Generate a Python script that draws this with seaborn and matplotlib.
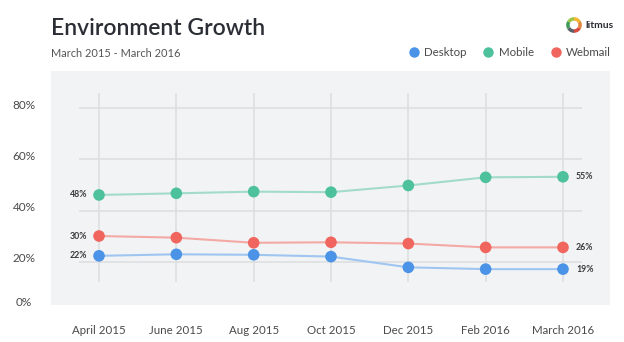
import matplotlib
matplotlib.use("Agg")
import matplotlib.pyplot as plt
import matplotlib.transforms as mtransforms
from matplotlib.lines import Line2D
import seaborn as sns
import pandas as pd

# ---- data ----
months = ["April 2015", "June 2015", "Aug 2015", "Oct 2015", "Dec 2015", "Feb 2016", "March 2016"]
desktop = [22.3, 22.9, 22.7, 22.0, 17.8, 17.1, 17.1]
mobile = [46.1, 46.75, 47.4, 47.2, 49.8, 53.0, 53.2]
webmail = [30.05, 29.4, 27.4, 27.6, 27.1, 25.6, 25.6]
series_names = ["Desktop", "Mobile", "Webmail"]
start_labels = ["22%", "48%", "30%"]
end_labels = ["19%", "55%", "26%"]
ytick_vals = [20, 40, 60, 80]
ytick_labels = ["0%", "20%", "40%", "60%", "80%"]

marker_colors = {"Desktop": "#4a93e6", "Mobile": "#4dc19c", "Webmail": "#f0655d"}
line_colors = {"Desktop": "#9fc6f1", "Mobile": "#a2dcc8", "Webmail": "#f4a9a4"}

rows = []
for name, vals in zip(series_names, [desktop, mobile, webmail]):
    for i, (m, v) in enumerate(zip(months, vals)):
        rows.append({"series": name, "month": m, "idx": i, "value": v})
df = pd.DataFrame(rows)

sns.set_theme(style="white")
plt.rcParams["font.family"] = ["Lato", "DejaVu Sans"]

W, H = 624, 342
fig = plt.figure(figsize=(W / 100, H / 100), dpi=100)
ax = fig.add_axes([51 / W, 1 - 305 / H, (610 - 51) / W, (305 - 71) / H])
ax.set_facecolor("#f2f3f5")
for s in ax.spines.values():
    s.set_visible(False)

ymin, ymax = 3.07, 94.58
xmin, xmax = -0.621, 6.608
ax.set_xlim(xmin, xmax)
ax.set_ylim(ymin, ymax)

# grid
grid_c = "#dcdde0"
ax.hlines(ytick_vals, -0.259, 6.246, color=grid_c, lw=1.1, zorder=1)
ax.vlines(range(len(months)), 12.06, 85.97, color=grid_c, lw=1.1, zorder=1)

sns.lineplot(data=df, x="idx", y="value", hue="series", palette=line_colors,
             linewidth=1.5, legend=False, ax=ax, zorder=2)
sns.scatterplot(data=df, x="idx", y="value", hue="series", palette=marker_colors,
                s=70, edgecolor="none", legend=False, ax=ax, zorder=3)

# end labels
for name, vals, sl, el in zip(series_names, [desktop, mobile, webmail], start_labels, end_labels):
    ax.annotate(sl, (0, vals[0]), xytext=(-8.5, 0), textcoords="offset points",
                ha="right", va="center", fontsize=6.3, fontweight="bold", color="#3a3a3a")
    ax.annotate(el, (len(months) - 1, vals[-1]), xytext=(9.3, 0), textcoords="offset points",
                ha="left", va="center", fontsize=6.3, fontweight="bold", color="#3a3a3a")

ax.set_xlabel("")
ax.set_ylabel("")
ax.set_xticks(range(len(months)))
ax.set_xticklabels(months)
ax.set_yticks([ymin] + ytick_vals)
ax.set_yticklabels(ytick_labels)
ax.tick_params(axis="x", length=0, pad=18.7, labelsize=8.3, labelcolor="#4a4a4a")
ax.tick_params(axis="y", length=0, pad=19.4, labelsize=8.5, labelcolor="#4a4a4a")
for lab in ax.get_xticklabels():
    lab.set_va("center")
off = mtransforms.ScaledTranslation(0, 3 / 100, fig.dpi_scale_trans)
for lab in ax.get_yticklabels():
    lab.set_ha("center")
    lab.set_va("center")
    lab.set_transform(lab.get_transform() + off)

# title / subtitle
fig.text(51 / W, 1 - 28.5 / H, "Environment Growth", fontsize=16.5, fontweight="semibold",
         color="#2c2e35", ha="left", va="center")
fig.text(51 / W, 1 - 53.5 / H, "March 2015 - March 2016", fontsize=7.9,
         color="#555555", ha="left", va="center")

# legend
handles = [Line2D([0], [0], marker="o", linestyle="none", markersize=7.5,
                  markerfacecolor=marker_colors[n], markeredgecolor="none") for n in series_names]
leg = fig.legend(handles, series_names, loc="center right", bbox_to_anchor=(611 / W, 1 - 53 / H),
                 ncol=3, frameon=False, borderpad=0, borderaxespad=0, handlelength=0.9,
                 handletextpad=0.45, columnspacing=1.45, fontsize=8.3)
for t in leg.get_texts():
    t.set_color("#4a4a4a")

# litmus logo
lax = fig.add_axes([566 / W, 1 - 33 / H, 16 / W, 16 / H])
lax.pie([1, 1, 1, 1, 1, 1], colors=["#f6b530", "#e2873a", "#d9493d", "#5b5f67", "#3f9a5a", "#9cc64a"],
        startangle=90, counterclock=False, radius=1.0,
        wedgeprops=dict(width=0.45, edgecolor="none"))
lax.set_xlim(-1.02, 1.02)
lax.set_ylim(-1.02, 1.02)
lax.set_aspect("equal")
lax.axis("off")
fig.text(585 / W, 1 - 25 / H, "litmus", fontsize=7.5, fontweight="bold", color="#2c2e35",
         ha="left", va="center")

fig.savefig("out.png", dpi=100)
